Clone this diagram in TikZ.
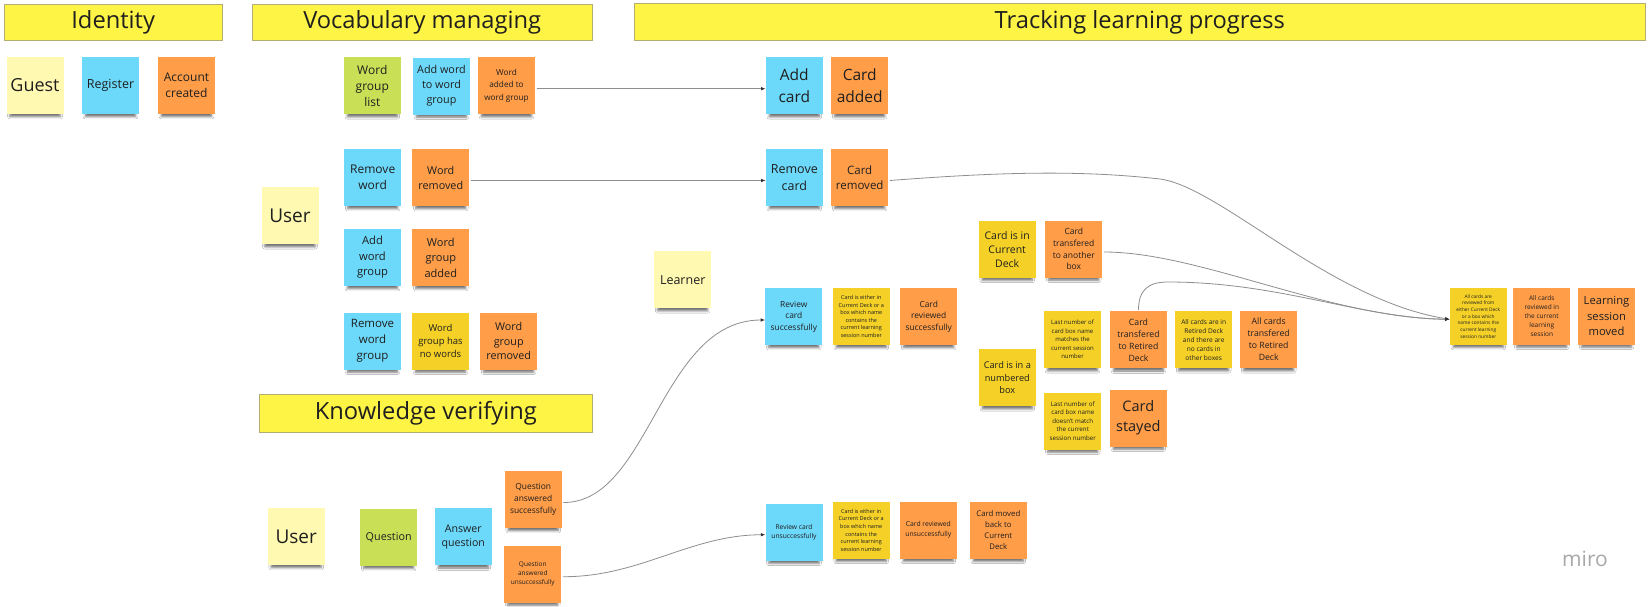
\documentclass[tikz,border=0pt]{standalone}
\usepackage{fontspec}
\setmainfont{Open Sans}
\usetikzlibrary{arrows.meta,shadows.blur,calc}

\definecolor{cPale}{HTML}{FFF9B1}
\definecolor{cYel}{HTML}{F5D128}
\definecolor{cOra}{HTML}{FF9D48}
\definecolor{cBlue}{HTML}{6CD8FA}
\definecolor{cGreen}{HTML}{C9DF56}
\definecolor{cHead}{HTML}{FEF445}
\definecolor{cHeadB}{HTML}{B3AD74}
\definecolor{cLine}{HTML}{8E8E8E}
\definecolor{cText}{HTML}{1F1F1F}
\definecolor{cMiro}{HTML}{A8A8A8}
\definecolor{cTip}{HTML}{333333}

\newcommand\fsz[2]{\fontsize{#1}{#2}\selectfont}

\tikzset{
  note/.style={minimum width=57pt, minimum height=57pt, inner sep=0pt, align=center, text=cText,
    blur shadow={shadow xshift=0pt, shadow yshift=-7pt, shadow opacity=55, shadow blur radius=2.5pt, shadow scale=0.88}},
  pale/.style={note, fill=cPale},
  yel/.style={note, fill=cYel},
  ora/.style={note, fill=cOra},
  blu/.style={note, fill=cBlue},
  grn/.style={note, fill=cGreen},
  header/.style={draw=cHeadB, line width=0.8pt, fill=cHead, inner sep=0pt, text=cText, font=\fsz{23.7}{28}},
  conn/.style={draw=cLine, line width=0.8pt, -{Latex[length=4.5pt,width=3.6pt,color=cTip]}},
}

\begin{document}
\begin{tikzpicture}[x=1pt,y=-1pt]
\fill[white] (0,0) rectangle (1648,606);
\useasboundingbox (0,0) rectangle (1648,606);

% headers
\node[header, minimum width=218.3pt, minimum height=36.7pt] (hId) at (113.2,22.4) {Identity};
\node[header, minimum width=339.7pt, minimum height=36.7pt] (hVoc) at (422.2,22.4) {Vocabulary managing};
\node[header, minimum width=1011pt, minimum height=37.4pt] (hTrk) at (1139.8,22.0) {Tracking learning progress};
\node[header, minimum width=333pt, minimum height=38.7pt] (hKnw) at (425.8,413.4) {Knowledge verifying};

% identity
\node[pale, font=\fsz{18}{24}] (guest) at (35,85.5) {Guest};
\node[blu, font=\fsz{12.5}{17}] (register) at (110.5,85.5) {Register};
\node[ora, font=\fsz{12}{16.5}] (accreated) at (186.5,85.5) {Account\\created};

% vocabulary
\node[grn, font=\fsz{12}{16}] (wglist) at (372.3,85.7) {Word\\group\\list};
\node[blu, font=\fsz{10.8}{15}] (addword) at (441.5,86) {Add word\\to word\\group};
\node[ora, font=\fsz{8.2}{12.3}] (wadded) at (506.5,85.7) {Word\\added to\\word group};
\node[blu, font=\fsz{12}{16.5}] (rmword) at (372.7,177.5) {Remove\\word};
\node[ora, font=\fsz{10.8}{15}] (wremoved) at (440.8,177.5) {Word\\removed};
\node[pale, font=\fsz{19}{24}] (user1) at (290,215.7) {User};
\node[blu, font=\fsz{11.2}{15.5}] (addwg) at (372.5,257.5) {Add\\word\\group};
\node[ora, font=\fsz{11}{15.5}] (wgadded) at (440.8,257.5) {Word\\group\\added};
\node[blu, font=\fsz{11.5}{16}] (rmwg) at (372.5,341) {Remove\\word\\group};
\node[yel, font=\fsz{9.5}{13.3}] (wgnowords) at (440.5,341) {Word\\group has\\no words};
\node[ora, font=\fsz{10.8}{14.8}] (wgremoved) at (508.7,341) {Word\\group\\removed};

% tracking
\node[blu, font=\fsz{15.5}{22}] (addcard) at (794.3,85.7) {Add\\card};
\node[ora, font=\fsz{15.5}{22}] (cadded) at (859.7,85.7) {Card\\added};
\node[blu, font=\fsz{12.5}{16.7}] (rmcard) at (794.3,177.5) {Remove\\card};
\node[ora, font=\fsz{11.5}{15}] (cremoved) at (859.7,177.5) {Card\\removed};
\node[pale, font=\fsz{12.5}{16}] (learner) at (682.7,279.7) {Learner};
\node[yel, font=\fsz{10.5}{14}] (incurrent) at (1007.2,249.2) {Card is in\\Current\\Deck};
\node[ora, font=\fsz{8.5}{11.7}] (ctanother) at (1073.8,249) {Card\\transfered\\to another\\box};
\node[blu, font=\fsz{8.4}{11.5}] (rcs) at (793.8,316.5) {Review\\card\\successfully};
\node[yel, font=\fsz{5.5}{7.6}] (eitherS) at (861.3,316.5) {Card is either in\\Current Deck or a\\box which name\\contains the\\current learning\\session number};
\node[ora, font=\fsz{8.4}{11.5}] (crs) at (928.7,316.5) {Card\\reviewed\\successfully};
\node[yel, font=\fsz{6}{8.5}] (lnmatch) at (1072.5,339.7) {Last number of\\card box name\\matches the\\current session\\number};
\node[ora, font=\fsz{8.7}{12}] (ctretired) at (1138.5,339.8) {Card\\transfered\\to Retired\\Deck};
\node[yel, font=\fsz{6.6}{9}] (allretired) at (1203.7,339.7) {All cards are in\\Retired Deck\\and there are\\no cards in\\other boxes};
\node[ora, font=\fsz{8.7}{12}] (actretired) at (1268.7,339.7) {All cards\\transfered\\to Retired\\Deck};
\node[yel, font=\fsz{9.2}{12.3}] (numbered) at (1007.3,377.7) {Card is in a\\numbered\\box};
\node[yel, font=\fsz{6.2}{8.6}] (lnnomatch) at (1072.8,421) {Last number of\\card box name\\doesn't match\\the current\\session number};
\node[ora, font=\fsz{14.5}{20}] (stayed) at (1138.3,418) {Card\\stayed};
\node[yel, font=\fsz{4.8}{6.7}] (allrev) at (1478.3,316.3) {All cards are\\reviewed from\\either Current Deck\\or a box which\\name contains the\\current learning\\session number};
\node[ora, font=\fsz{6.5}{8.9}] (allrevin) at (1541.8,316) {All cards\\reviewed in\\the current\\learning\\session};
\node[ora, font=\fsz{11.2}{15.3}] (lsmoved) at (1606.5,316) {Learning\\session\\moved};

% knowledge verifying
\node[ora, font=\fsz{8.4}{12}] (qas) at (533.2,499.5) {Question\\answered\\successfully};
\node[pale, font=\fsz{19}{24}] (user2) at (296.2,536.5) {User};
\node[grn, font=\fsz{10.8}{14}] (question) at (388.7,537.3) {Question};
\node[blu, font=\fsz{10.6}{14.3}] (answerq) at (463.3,536.8) {Answer\\question};
\node[ora, font=\fsz{6.5}{9.2}] (qau) at (532.8,574) {Question\\answered\\unsuccessfully};
\node[blu, font=\fsz{6.7}{9}] (rcu) at (794,532.2) {Review card\\unsuccessfully};
\node[yel, font=\fsz{5.5}{7.6}] (eitherU) at (861.2,530.2) {Card is either in\\Current Deck or a\\box which name\\contains the\\current learning\\session number};
\node[ora, font=\fsz{6.8}{10}] (cru) at (928.3,530.2) {Card reviewed\\unsuccessfully};
\node[ora, font=\fsz{7.8}{11}] (cmoved) at (998.3,530.2) {Card moved\\back to\\Current\\Deck};

% miro logo text
\node[text=cMiro, font=\fsz{21}{24}] (miro) at (1585,559) {miro};

% connectors
\draw[conn] ($(wadded.east)+(1.5,3)$) -- ($(addcard.west)+(0,3)$);
\draw[conn] ($(wremoved.east)+(1.5,3)$) -- ($(rmcard.west)+(0,3)$);
\draw[conn] ($(cremoved.east)+(1.5,3)$) .. controls (1000,172) and (1080,170) .. (1160,179)
   .. controls (1220,187) and (1330,300) .. ($(allrev.west)+(0,3)$);
\draw[conn] ($(ctanother.east)+(1.5,3)$) .. controls (1200,252) and (1330,318) .. ($(allrev.west)+(0,3)$);
\draw[conn] ($(ctretired.north)+(0,-1)$) .. controls (1138.5,290) and (1148,282) .. (1168,282)
   .. controls (1280,282) and (1360,318) .. ($(allrev.west)+(0,3)$);
\draw[conn] ($(qas.east)+(1.5,3)$) .. controls (650,503) and (660,320) .. ($(rcs.west)+(0,3.5)$);
\draw[conn] ($(qau.east)+(1.5,2.7)$) .. controls (640,577) and (690,535) .. ($(rcu.west)+(0,2.5)$);
\end{tikzpicture}
\end{document}
